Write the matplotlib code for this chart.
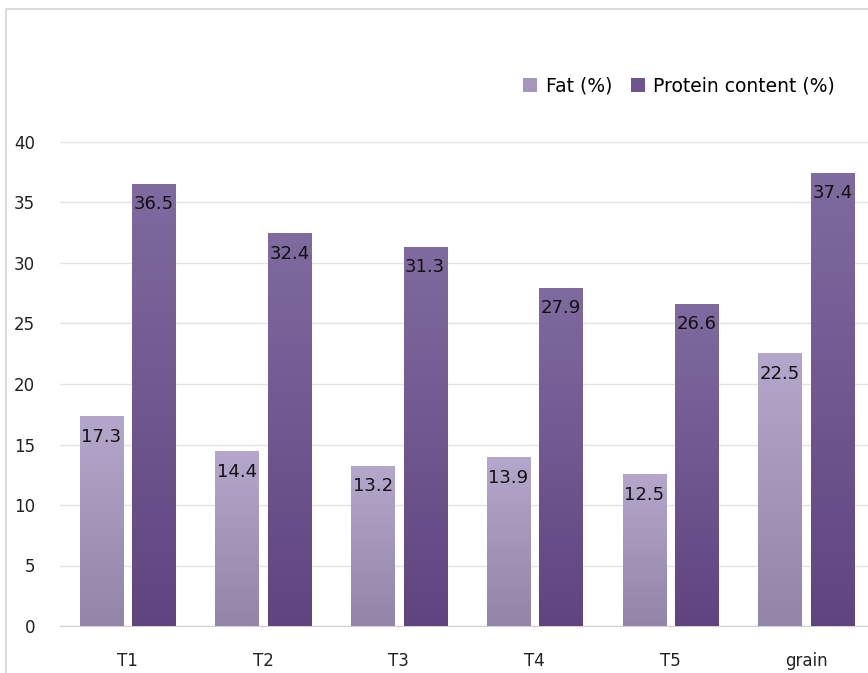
import numpy as np
import matplotlib
matplotlib.use("Agg")
import matplotlib.pyplot as plt
from matplotlib.colors import LinearSegmentedColormap
from matplotlib.patches import Rectangle, Patch

categories = ["T1", "T2", "T3", "T4", "T5", "grain"]
fat = [17.3, 14.4, 13.2, 13.9, 12.5, 22.5]
protein = [36.5, 32.4, 31.3, 27.9, 26.6, 37.4]
series_names = ["Fat (%)", "Protein content (%)"]

plt.rcParams["font.family"] = ["DejaVu Sans"]

W, H = 868, 673
fig = plt.figure(figsize=(W / 100, H / 100), dpi=100)

# outer frame (cut off at the right/bottom like the screenshot)
fig.patches.append(Rectangle((6 / W, -0.1), 1.2, 1 - 9 / H + 0.1, transform=fig.transFigure,
                             fill=False, edgecolor="#d4d4d4", linewidth=1.2))

left = 59.6 / W
right = 874 / W
bottom = (H - 626) / H
top = (H - 142) / H
ax = fig.add_axes([left, bottom, right - left, top - bottom])

x = np.arange(len(categories))
bw = 0.317
off = 0.193

fat_cmap = LinearSegmentedColormap.from_list("fat", ["#9385a8", "#b4a7cb"])
pro_cmap = LinearSegmentedColormap.from_list("pro", ["#604480", "#7f6b9f"])
grad = np.linspace(0, 1, 256).reshape(-1, 1)

for vals, cmap, dx in [(fat, fat_cmap, -off), (protein, pro_cmap, off)]:
    bars = ax.bar(x + dx, vals, width=bw, color="none", edgecolor="none", zorder=3)
    for b, v in zip(bars, vals):
        x0 = b.get_x()
        ax.imshow(grad, cmap=cmap, aspect="auto", origin="lower",
                  extent=(x0, x0 + bw, 0, v), zorder=3)
        ax.text(x0 + bw / 2, v - 1.65, f"{v}", ha="center", va="center",
                fontsize=13, color="#111111", zorder=4)

ax.set_xlim(-0.5, len(categories) - 0.5)
ax.set_ylim(0, 40)
ax.set_yticks(range(0, 41, 5))
ax.set_xticks(x)
ax.set_xticklabels(categories)
ax.grid(axis="y", color="#e3e3e3", linewidth=1)
ax.set_axisbelow(True)
for s in ["top", "right", "left"]:
    ax.spines[s].set_visible(False)
ax.spines["bottom"].set_color("#d0d0d0")
ax.tick_params(axis="both", length=0, labelsize=12, colors="#222222")
ax.tick_params(axis="y", pad=17.5)
ax.tick_params(axis="x", pad=19)

handles = [Patch(facecolor="#a597bb", edgecolor="none"),
           Patch(facecolor="#6d5590", edgecolor="none")]
fig.legend(handles, series_names, loc="center right",
           bbox_to_anchor=(852 / W, 1 - 86 / H), ncol=2, frameon=False,
           fontsize=13.5, handlelength=0.75, handleheight=0.75, handletextpad=0.45,
           columnspacing=1.0)

fig.savefig("out.png", dpi=100, facecolor="white")
